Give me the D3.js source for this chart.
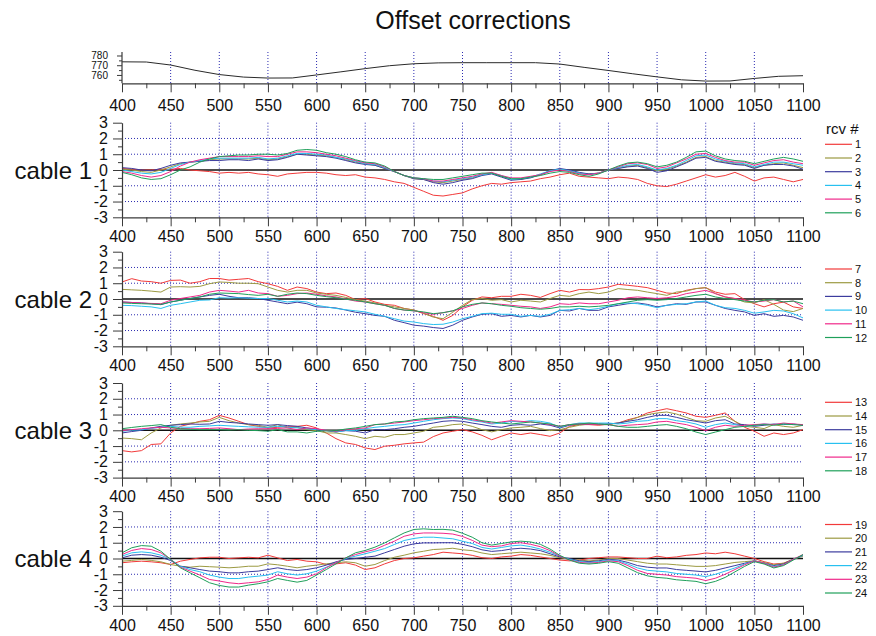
<!DOCTYPE html>
<html>
<head>
<meta charset="utf-8">
<script src="https://cdn.jsdelivr.net/npm/d3@7"></script>
<style>
  body { margin: 0; background: #fff; }
  svg { display: block; font-family: "Liberation Sans", Arial, sans-serif; }
</style>
</head>
<body>
<svg id="chart" width="876" height="636"></svg>
<script>
// ---- data ---------------------------------------------------------------
// Distance samples (m) shared by every receiver trace.
const distance = [
  400, 410, 420, 430, 440, 450, 460, 470, 480, 490,
  500, 510, 520, 530, 540, 550, 560, 570, 580, 590,
  600, 610, 620, 630, 640, 650, 660, 670, 680, 690,
  700, 710, 720, 730, 740, 750, 760, 770, 780, 790,
  800, 810, 820, 830, 840, 850, 860, 870, 880, 890,
  900, 910, 920, 930, 940, 950, 960, 970, 980, 990,
  1000, 1010, 1020, 1030, 1040, 1050, 1060, 1070, 1080, 1090,
  1100
];

// Elevation profile along the line.
const elevDistance = [400, 425, 450, 475, 500, 525, 550, 575, 600, 625, 650, 675, 700, 725,
  750, 775, 800, 825, 850, 875, 900, 925, 950, 975, 1000, 1025, 1050, 1075, 1100];
const elevation = [773.5, 773.3, 770.2, 764.8, 760.4, 757.8, 756.8, 756.9, 760.0, 763.2, 766.5, 769.5, 771.5, 772.4,
  772.6, 772.6, 772.6, 772.6, 771.2, 767.8, 764.6, 761.2, 758.0, 755.0, 753.7, 753.8, 756.4, 758.6, 759.2];

const xTicks = [400, 450, 500, 550, 600, 650, 700, 750, 800, 850, 900, 950, 1000, 1050, 1100];
const xMinorTicks = [425, 475, 525, 575, 625, 675, 725, 775, 825, 875, 925, 975, 1025, 1075];
const yTicks = [-3, -2, -1, 0, 1, 2, 3];
const yMinorTicks = [-2.5, -1.5, -0.5, 0.5, 1.5, 2.5];
const yGrid = [-2, -1, 1, 2];
const elevTicks = [760, 770, 780];
const elevMinorTicks = [755, 765, 775];

const cableNames = ["cable 1", "cable 2", "cable 3", "cable 4"];
const rcvNumbers = [[1, 2, 3, 4, 5, 6], [7, 8, 9, 10, 11, 12], [13, 14, 15, 16, 17, 18], [19, 20, 21, 22, 23, 24]];
const rcvColors = ["#f23a3a", "#9c9a42", "#3c3c9e", "#28c0f0", "#f0288a", "#1fa05a"];

// Offset corrections per receiver, cable 1
const cable1 = [
  [0.1, 0.05, 0.0, 0.0, 0.05, 0.05, 0.1, 0.0, -0.05, -0.1,
   -0.2, -0.15, -0.2, -0.15, -0.25, -0.3, -0.4, -0.25, -0.2, -0.15,
   -0.15, -0.2, -0.3, -0.35, -0.3, -0.45, -0.5, -0.6, -0.75, -0.85,
   -1.1, -1.35, -1.6, -1.65, -1.55, -1.45, -1.2, -1.0, -0.85, -0.9,
   -0.8, -0.75, -0.7, -0.55, -0.45, -0.3, -0.2, -0.4, -0.45, -0.5,
   -0.55, -0.45, -0.5, -0.6, -0.85, -1.0, -1.05, -0.9, -0.7, -0.5,
   -0.3, -0.45, -0.35, -0.15, -0.4, -0.7, -0.5, -0.45, -0.6, -0.75,
   -0.6],
  [0.05, 0.0, -0.1, -0.15, 0.0, 0.2, 0.4, 0.5, 0.55, 0.65,
   0.7, 0.7, 0.7, 0.7, 0.75, 0.65, 0.7, 0.85, 1.0, 1.0,
   0.95, 0.9, 0.8, 0.65, 0.5, 0.4, 0.3, 0.1, -0.1, -0.35,
   -0.55, -0.6, -0.75, -0.8, -0.7, -0.6, -0.5, -0.3, -0.2, -0.4,
   -0.6, -0.6, -0.45, -0.3, -0.05, 0.05, -0.05, -0.2, -0.25, -0.2,
   0.0, 0.1, 0.25, 0.3, 0.15, -0.05, 0.05, 0.25, 0.5, 0.8,
   0.85, 0.6, 0.5, 0.4, 0.35, 0.15, 0.3, 0.4, 0.45, 0.3,
   0.15],
  [0.15, 0.1, 0.0, -0.05, 0.1, 0.3, 0.45, 0.5, 0.55, 0.6,
   0.6, 0.65, 0.65, 0.6, 0.7, 0.6, 0.65, 0.8, 1.0, 0.95,
   0.9, 0.85, 0.75, 0.6, 0.45, 0.35, 0.3, 0.1, -0.1, -0.35,
   -0.55, -0.6, -0.8, -0.9, -0.8, -0.65, -0.55, -0.35, -0.25, -0.45,
   -0.65, -0.6, -0.5, -0.3, -0.05, 0.1, 0.0, -0.15, -0.25, -0.2,
   0.0, 0.1, 0.2, 0.25, 0.1, -0.15, -0.05, 0.2, 0.45, 0.75,
   0.8, 0.55, 0.45, 0.35, 0.3, 0.1, 0.3, 0.35, 0.35, 0.25,
   0.05],
  [0.0, -0.1, -0.2, -0.25, -0.15, 0.1, 0.35, 0.5, 0.6, 0.7,
   0.75, 0.75, 0.75, 0.75, 0.8, 0.7, 0.75, 0.9, 1.05, 1.05,
   1.0, 0.95, 0.8, 0.7, 0.55, 0.4, 0.35, 0.15, -0.1, -0.35,
   -0.5, -0.55, -0.7, -0.75, -0.65, -0.55, -0.45, -0.3, -0.2, -0.35,
   -0.6, -0.55, -0.45, -0.25, -0.05, 0.05, -0.05, -0.2, -0.3, -0.2,
   0.0, 0.15, 0.3, 0.35, 0.2, 0.0, 0.1, 0.3, 0.6, 0.9,
   0.95, 0.7, 0.55, 0.45, 0.4, 0.2, 0.35, 0.5, 0.5, 0.4,
   0.3],
  [-0.1, -0.2, -0.35, -0.45, -0.35, -0.1, 0.25, 0.5, 0.65, 0.75,
   0.85, 0.85, 0.85, 0.85, 0.9, 0.85, 0.85, 1.0, 1.15, 1.15,
   1.1, 1.0, 0.9, 0.75, 0.6, 0.45, 0.4, 0.2, -0.1, -0.35,
   -0.5, -0.55, -0.7, -0.7, -0.6, -0.5, -0.4, -0.25, -0.15, -0.35,
   -0.5, -0.5, -0.4, -0.3, -0.1, 0.0, -0.1, -0.25, -0.3, -0.2,
   0.0, 0.2, 0.4, 0.45, 0.35, 0.1, 0.2, 0.45, 0.7, 1.0,
   1.05, 0.8, 0.6, 0.5, 0.5, 0.3, 0.45, 0.6, 0.65, 0.5,
   0.4],
  [-0.15, -0.3, -0.5, -0.6, -0.55, -0.3, 0.0, 0.2, 0.5, 0.7,
   0.85, 0.9, 0.95, 0.95, 1.0, 1.0, 0.95, 1.05, 1.25, 1.3,
   1.25, 1.1, 1.0, 0.85, 0.65, 0.5, 0.45, 0.25, -0.1, -0.35,
   -0.5, -0.55, -0.6, -0.6, -0.5, -0.4, -0.3, -0.2, -0.2, -0.4,
   -0.55, -0.55, -0.45, -0.35, -0.2, -0.1, -0.15, -0.3, -0.4, -0.25,
   0.0, 0.25, 0.45, 0.5, 0.4, 0.2, 0.3, 0.5, 0.8, 1.15,
   1.2, 0.9, 0.7, 0.6, 0.55, 0.4, 0.55, 0.7, 0.8, 0.7,
   0.55]
];

// cable 2
const cable2 = [
  [1.08, 1.29, 1.14, 1.1, 1.0, 1.18, 1.2, 1.0, 1.1, 1.3,
   1.3, 1.2, 1.25, 1.3, 1.1, 0.97, 0.8, 0.55, 0.76, 0.66,
   0.44, 0.34, 0.38, 0.23, -0.04, 0.03, -0.19, -0.34, -0.4, -0.6,
   -0.7, -0.93, -1.1, -1.35, -1.04, -0.5, -0.08, 0.13, 0.08, 0.17,
   0.17, 0.3, 0.23, 0.1, 0.34, 0.55, 0.44, 0.6, 0.59, 0.66,
   0.76, 0.93, 0.87, 0.8, 0.72, 0.55, 0.38, 0.34, 0.55, 0.66,
   0.72, 0.44, 0.3, 0.34, -0.04, -0.3, -0.5, -0.3, -0.2, -0.5,
   -0.6],
  [0.61, 0.58, 0.55, 0.5, 0.44, 0.76, 0.78, 0.76, 0.8, 0.97,
   1.08, 1.05, 1.0, 1.0, 0.97, 0.76, 0.55, 0.44, 0.55, 0.55,
   0.38, 0.3, 0.23, 0.1, -0.05, -0.13, -0.25, -0.4, -0.5, -0.6,
   -0.7, -0.9, -1.15, -1.25, -0.84, -0.4, -0.04, 0.03, -0.08, -0.04,
   -0.19, -0.08, -0.13, -0.19, 0.03, 0.23, 0.17, 0.34, 0.44, 0.34,
   0.44, 0.66, 0.6, 0.55, 0.44, 0.34, 0.23, 0.44, 0.5, 0.66,
   0.72, 0.34, 0.13, 0.03, -0.19, -0.25, -0.04, -0.34, -0.7, -0.8,
   -0.6],
  [-0.19, -0.22, -0.25, -0.3, -0.36, -0.19, -0.08, 0.03, 0.13, 0.23,
   0.3, 0.17, 0.08, 0.08, 0.03, -0.08, -0.19, -0.3, -0.2, -0.3,
   -0.5, -0.52, -0.57, -0.7, -0.84, -0.93, -1.04, -1.1, -1.35, -1.5,
   -1.66, -1.72, -1.81, -1.87, -1.66, -1.35, -1.14, -0.97, -0.93, -1.1,
   -1.04, -1.14, -1.04, -1.14, -1.04, -0.72, -0.76, -0.6, -0.72, -0.72,
   -0.5, -0.4, -0.3, -0.25, -0.34, -0.5, -0.4, -0.3, -0.34, -0.19,
   -0.19, -0.4, -0.6, -0.72, -0.82, -1.04, -0.93, -1.1, -1.04, -1.14,
   -1.35],
  [-0.4, -0.42, -0.46, -0.5, -0.6, -0.4, -0.3, -0.19, -0.08, -0.06,
   0.08, 0.06, 0.08, 0.05, 0.03, 0.03, -0.08, -0.19, -0.13, -0.19,
   -0.4, -0.5, -0.6, -0.68, -0.75, -0.82, -0.97, -1.1, -1.25, -1.4,
   -1.46, -1.56, -1.62, -1.6, -1.46, -1.25, -1.1, -0.93, -0.9, -0.97,
   -0.97, -1.1, -1.04, -1.1, -0.97, -0.72, -0.68, -0.6, -0.68, -0.6,
   -0.46, -0.3, -0.25, -0.3, -0.4, -0.55, -0.4, -0.34, -0.3, -0.19,
   -0.13, -0.4, -0.55, -0.6, -0.72, -0.9, -0.82, -0.72, -0.76, -0.93,
   -1.2],
  [-0.19, -0.22, -0.25, -0.28, -0.3, -0.08, 0.03, 0.13, 0.23, 0.44,
   0.55, 0.5, 0.44, 0.55, 0.38, 0.34, 0.17, 0.23, 0.34, 0.38,
   0.3, 0.2, 0.13, 0.0, -0.13, -0.19, -0.3, -0.4, -0.6, -0.7,
   -0.75, -0.87, -0.97, -0.87, -0.75, -0.6, -0.4, -0.25, -0.3, -0.34,
   -0.4, -0.46, -0.5, -0.6, -0.5, -0.3, -0.34, -0.25, -0.3, -0.3,
   -0.19, -0.08, 0.08, 0.13, 0.08, 0.03, 0.08, 0.17, 0.34, 0.44,
   0.55, 0.34, 0.13, 0.03, -0.08, -0.19, -0.13, -0.04, -0.19, -0.13,
   -0.5],
  [-0.25, -0.28, -0.3, -0.32, -0.34, -0.19, -0.08, 0.03, 0.13, 0.3,
   0.38, 0.36, 0.34, 0.28, 0.23, 0.3, 0.17, 0.3, 0.38, 0.34,
   0.23, 0.15, 0.08, -0.02, -0.08, -0.19, -0.3, -0.4, -0.6, -0.7,
   -0.75, -0.82, -0.93, -0.87, -0.75, -0.5, -0.34, -0.25, -0.3, -0.4,
   -0.46, -0.55, -0.6, -0.65, -0.6, -0.5, -0.5, -0.46, -0.5, -0.46,
   -0.4, -0.3, -0.19, -0.08, -0.04, -0.08, -0.04, 0.03, 0.13, 0.23,
   0.3, 0.13, 0.03, -0.04, -0.13, -0.19, -0.08, -0.04, -0.19, -0.13,
   -0.3]
];

// cable 3
const cable3 = [
  [-1.29, -1.37, -1.29, -0.9, -0.86, -0.17, 0.25, 0.4, 0.57, 0.67,
   0.95, 0.78, 0.57, 0.36, 0.25, 0.15, 0.19, 0.25, 0.25, 0.32,
   0.15, -0.17, -0.53, -0.8, -0.9, -1.12, -1.22, -1.01, -0.95, -0.86,
   -0.8, -0.75, -0.4, -0.17, -0.06, 0.04, -0.1, -0.32, -0.6, -0.38,
   -0.17, -0.27, -0.17, -0.27, -0.38, -0.17, 0.25, 0.36, 0.36, 0.32,
   0.4, 0.46, 0.67, 0.82, 1.1, 1.24, 1.37, 1.24, 1.1, 0.89,
   0.82, 0.95, 1.1, 0.57, 0.19, -0.06, -0.38, -0.17, -0.27, -0.17,
   0.04],
  [-0.49, -0.53, -0.6, -0.17, 0.15, 0.32, 0.4, 0.46, 0.53, 0.57,
   0.82, 0.61, 0.46, 0.36, 0.32, 0.19, 0.36, 0.15, 0.19, 0.04,
   -0.02, -0.17, -0.17, -0.27, -0.38, -0.53, -0.38, -0.44, -0.27, -0.27,
   -0.17, -0.06, 0.19, 0.25, 0.36, 0.4, 0.25, 0.04, -0.1, 0.04,
   0.15, 0.19, 0.25, 0.11, -0.02, 0.04, 0.19, 0.32, 0.4, 0.36,
   0.36, 0.46, 0.61, 0.82, 0.99, 1.1, 1.16, 1.03, 0.82, 0.61,
   0.57, 0.78, 0.89, 0.57, 0.25, 0.19, 0.11, 0.36, 0.25, 0.19,
   0.32],
  [-0.17, -0.08, 0.0, 0.15, 0.25, 0.32, 0.36, 0.4, 0.38, 0.4,
   0.57, 0.5, 0.46, 0.4, 0.36, 0.32, 0.36, 0.3, 0.25, 0.15,
   0.04, -0.02, -0.1, -0.02, -0.06, -0.17, 0.04, 0.04, 0.1, 0.19,
   0.25, 0.36, 0.46, 0.57, 0.61, 0.57, 0.46, 0.36, 0.25, 0.19,
   0.32, 0.36, 0.32, 0.4, 0.32, 0.15, 0.32, 0.4, 0.4, 0.4,
   0.4, 0.46, 0.57, 0.67, 0.82, 0.95, 0.95, 0.82, 0.67, 0.57,
   0.46, 0.61, 0.67, 0.4, 0.36, 0.25, 0.32, 0.4, 0.36, 0.4,
   0.32],
  [-0.06, 0.0, 0.04, 0.12, 0.19, 0.25, 0.2, 0.19, 0.25, 0.28,
   0.32, 0.28, 0.25, 0.22, 0.2, 0.19, 0.25, 0.2, 0.15, 0.1,
   0.04, 0.0, -0.1, -0.02, -0.02, 0.1, 0.19, 0.25, 0.32, 0.36,
   0.46, 0.57, 0.67, 0.74, 0.78, 0.74, 0.61, 0.53, 0.4, 0.46,
   0.57, 0.53, 0.61, 0.57, 0.46, 0.19, 0.36, 0.46, 0.46, 0.46,
   0.46, 0.4, 0.46, 0.57, 0.61, 0.74, 0.74, 0.61, 0.53, 0.4,
   0.19, 0.36, 0.46, 0.36, 0.25, 0.32, 0.4, 0.36, 0.4, 0.36,
   0.36],
  [-0.02, 0.04, 0.1, 0.15, 0.19, 0.15, 0.12, 0.1, 0.1, 0.12,
   0.15, 0.1, 0.04, 0.08, 0.1, 0.1, 0.12, 0.15, 0.04, 0.15,
   0.1, 0.0, -0.06, 0.04, 0.1, 0.15, 0.36, 0.4, 0.46, 0.53,
   0.61, 0.67, 0.74, 0.78, 0.82, 0.78, 0.67, 0.57, 0.46, 0.53,
   0.61, 0.57, 0.53, 0.46, 0.36, 0.25, 0.36, 0.4, 0.4, 0.36,
   0.36, 0.25, 0.32, 0.36, 0.4, 0.53, 0.57, 0.46, 0.36, 0.19,
   -0.02, 0.19, 0.32, 0.25, 0.32, 0.36, 0.4, 0.36, 0.46, 0.4,
   0.36],
  [0.1, 0.18, 0.25, 0.3, 0.36, 0.19, 0.1, 0.06, 0.04, 0.04,
   0.04, 0.02, 0.04, 0.0, -0.02, -0.06, 0.04, -0.1, -0.1, -0.17,
   -0.06, -0.04, -0.02, 0.08, 0.15, 0.25, 0.36, 0.4, 0.53, 0.57,
   0.67, 0.74, 0.78, 0.82, 0.89, 0.82, 0.74, 0.61, 0.53, 0.46,
   0.4, 0.46, 0.53, 0.46, 0.4, 0.25, 0.36, 0.4, 0.46, 0.4,
   0.36, 0.25, 0.19, 0.19, 0.25, 0.32, 0.36, 0.25, 0.1, -0.11,
   -0.27, -0.11, 0.04, 0.19, 0.25, 0.32, 0.36, 0.32, 0.4, 0.36,
   0.32]
];

// cable 4
const cable4 = [
  [-0.27, -0.21, -0.17, -0.21, -0.27, -0.38, -0.17, -0.06, 0.04, 0.08,
   0.08, 0.0, 0.04, 0.08, 0.04, 0.21, 0.04, -0.13, -0.06, -0.17,
   -0.21, -0.38, -0.34, -0.27, -0.42, -0.7, -0.59, -0.34, -0.13, 0.0,
   0.04, 0.15, 0.25, 0.4, 0.35, 0.3, 0.2, 0.05, 0.0, 0.1,
   0.15, 0.25, 0.2, 0.1, 0.0, -0.1, -0.15, -0.1, 0.0, 0.05,
   0.1, 0.1, 0.05, 0.0, 0.0, 0.15, 0.05, 0.1, 0.2, 0.25,
   0.35, 0.3, 0.4, 0.3, 0.15, 0.0, -0.2, -0.35, -0.3, -0.05,
   0.2],
  [-0.17, -0.12, -0.06, -0.12, -0.21, -0.38, -0.49, -0.55, -0.49, -0.52,
   -0.55, -0.59, -0.55, -0.49, -0.49, -0.34, -0.4, -0.49, -0.59, -0.49,
   -0.42, -0.34, -0.27, -0.21, -0.27, -0.49, -0.38, -0.13, 0.08, 0.21,
   0.36, 0.46, 0.57, 0.6, 0.65, 0.55, 0.5, 0.35, 0.25, 0.3,
   0.35, 0.4, 0.35, 0.3, 0.2, 0.05, -0.05, -0.1, -0.15, -0.1,
   0.0, 0.0, -0.1, -0.2, -0.3, -0.35, -0.35, -0.4, -0.45, -0.5,
   -0.5, -0.45, -0.35, -0.25, -0.2, -0.15, -0.25, -0.4, -0.3, -0.05,
   0.15],
  [0.04, 0.21, 0.25, 0.21, 0.08, -0.13, -0.49, -0.59, -0.7, -0.8,
   -0.84, -0.91, -0.91, -0.84, -0.8, -0.7, -0.59, -0.7, -0.76, -0.7,
   -0.59, -0.42, -0.21, -0.06, 0.0, 0.08, 0.15, 0.36, 0.57, 0.78,
   0.93, 0.99, 0.99, 1.0, 1.0, 0.9, 0.75, 0.55, 0.45, 0.5,
   0.6, 0.65, 0.6, 0.5, 0.3, 0.1, 0.0, -0.15, -0.2, -0.15,
   -0.05, -0.1, -0.25, -0.45, -0.55, -0.6, -0.6, -0.7, -0.75, -0.8,
   -0.85, -0.75, -0.6, -0.45, -0.3, -0.15, -0.3, -0.45, -0.35, -0.05,
   0.2],
  [0.15, 0.36, 0.42, 0.36, 0.21, -0.06, -0.49, -0.7, -0.84, -1.05,
   -1.18, -1.27, -1.27, -1.18, -1.12, -1.05, -0.84, -0.97, -1.05, -0.97,
   -0.8, -0.55, -0.27, 0.0, 0.15, 0.3, 0.46, 0.63, 0.89, 1.14,
   1.27, 1.35, 1.35, 1.3, 1.25, 1.1, 0.95, 0.7, 0.6, 0.7,
   0.8, 0.85, 0.75, 0.6, 0.4, 0.15, -0.05, -0.2, -0.25, -0.2,
   -0.1, -0.15, -0.35, -0.6, -0.75, -0.8, -0.85, -0.95, -1.0, -1.05,
   -1.15, -1.0, -0.8, -0.6, -0.35, -0.15, -0.3, -0.5, -0.4, -0.05,
   0.2],
  [0.25, 0.51, 0.63, 0.57, 0.36, -0.06, -0.55, -0.8, -1.05, -1.33,
   -1.43, -1.54, -1.6, -1.54, -1.48, -1.33, -1.05, -1.18, -1.27, -1.18,
   -0.97, -0.59, -0.27, 0.04, 0.25, 0.42, 0.57, 0.84, 1.1, 1.41,
   1.56, 1.62, 1.62, 1.6, 1.55, 1.4, 1.15, 0.85, 0.75, 0.8,
   0.95, 1.0, 0.9, 0.75, 0.5, 0.15, -0.1, -0.25, -0.3, -0.25,
   -0.15, -0.2, -0.45, -0.75, -0.95, -1.0, -1.05, -1.15, -1.2, -1.25,
   -1.4, -1.25, -1.0, -0.7, -0.4, -0.15, -0.3, -0.55, -0.4, -0.05,
   0.25],
  [0.36, 0.68, 0.82, 0.78, 0.46, -0.06, -0.59, -0.91, -1.22, -1.54,
   -1.71, -1.81, -1.81, -1.69, -1.6, -1.48, -1.27, -1.39, -1.5, -1.39,
   -1.05, -0.7, -0.34, 0.04, 0.36, 0.51, 0.72, 0.99, 1.31, 1.62,
   1.84, 1.88, 1.84, 1.85, 1.8, 1.6, 1.35, 1.0, 0.85, 0.95,
   1.05, 1.1, 1.05, 0.9, 0.6, 0.2, -0.1, -0.3, -0.35, -0.3,
   -0.2, -0.3, -0.6, -0.9, -1.1, -1.2, -1.25, -1.35, -1.4, -1.45,
   -1.6, -1.45, -1.2, -0.85, -0.5, -0.2, -0.35, -0.6, -0.45, -0.1,
   0.25]
];

const cables = [cable1, cable2, cable3, cable4];

// ---- layout -------------------------------------------------------------
const svg = d3.select("#chart");
const X0 = 122, X1 = 803;
const panelTop = [122.7, 251.7, 383, 511.2];
const panelH = 94.6;
const legendTop = [144.3, 269, 402.3, 524.5];
const legendStep = 13.7;
const gridColor = "#2b2bb0";
const axisColor = "#3a3a3a";

const x = d3.scaleLinear().domain([400, 1100]).range([X0, X1]);

svg.append("text")
  .attr("x", 473).attr("y", 20)
  .attr("text-anchor", "middle").attr("dominant-baseline", "central")
  .attr("font-size", 25).attr("fill", "#111")
  .text("Offset corrections");

function styleAxis(g, fontSize) {
  g.select(".domain").attr("stroke", axisColor).attr("stroke-width", 1.2);
  g.selectAll(".tick line").attr("stroke", axisColor);
  g.selectAll(".tick text").attr("fill", "#111").attr("font-size", fontSize)
    .attr("font-family", '"Liberation Sans", Arial, sans-serif');
}

function drawXAxis(yPos, padding) {
  const major = svg.append("g").attr("transform", `translate(0,${yPos})`)
    .call(d3.axisBottom(x).tickValues(xTicks).tickSize(9).tickSizeOuter(0)
      .tickPadding(padding).tickFormat(d3.format("d")));
  styleAxis(major, 16);
  const minor = svg.append("g").attr("transform", `translate(0,${yPos})`)
    .call(d3.axisBottom(x).tickValues(xMinorTicks).tickSize(5).tickSizeOuter(0).tickFormat(""));
  minor.select(".domain").remove();
  minor.selectAll(".tick line").attr("stroke", axisColor);
}

function verticalGrid(top, bottom) {
  svg.append("g").selectAll("line")
    .data(xTicks.filter(d => d > 400 && d < 1100))
    .join("line")
    .attr("x1", d => x(d)).attr("x2", d => x(d))
    .attr("y1", top).attr("y2", bottom)
    .attr("stroke", gridColor).attr("stroke-width", 1)
    .attr("stroke-dasharray", "1,2");
}

// ---- elevation strip ----------------------------------------------------
{
  const top = 52, bottom = 83.3;
  const yE = d3.scaleLinear().domain([751.4, 783.6]).range([bottom, top]);
  verticalGrid(top, bottom);

  svg.append("path")
    .datum(elevDistance.map((d, i) => [d, elevation[i]]))
    .attr("fill", "none").attr("stroke", "#2a2a2a").attr("stroke-width", 1)
    .attr("d", d3.line().x(d => x(d[0])).y(d => yE(d[1])));

  const ya = svg.append("g").attr("transform", `translate(${X0},0)`)
    .call(d3.axisLeft(yE).tickValues(elevTicks).tickSize(5).tickSizeOuter(0).tickPadding(9));
  styleAxis(ya, 10);
  ya.select(".domain").attr("d", `M0,${top}V${bottom}`);
  const ym = svg.append("g").attr("transform", `translate(${X0},0)`)
    .call(d3.axisLeft(yE).tickValues(elevMinorTicks).tickSize(3).tickFormat(""));
  ym.select(".domain").remove();
  ym.selectAll(".tick line").attr("stroke", axisColor);

  drawXAxis(bottom, 7);
}

// ---- cable panels -------------------------------------------------------
cables.forEach((series, p) => {
  const top = panelTop[p], bottom = top + panelH;
  const y = d3.scaleLinear().domain([-3, 3]).range([bottom, top]);

  verticalGrid(top, bottom);
  svg.append("g").selectAll("line")
    .data(yGrid).join("line")
    .attr("x1", X0).attr("x2", X1)
    .attr("y1", d => y(d)).attr("y2", d => y(d))
    .attr("stroke", gridColor).attr("stroke-width", 1)
    .attr("stroke-dasharray", "1,2");

  svg.append("line")
    .attr("x1", X0).attr("x2", X1).attr("y1", y(0)).attr("y2", y(0))
    .attr("stroke", "#111").attr("stroke-width", 1.6);

  const line = d3.line().x((d, i) => x(distance[i])).y(d => y(d));
  series.forEach((vals, k) => {
    svg.append("path").datum(vals)
      .attr("fill", "none").attr("stroke", rcvColors[k])
      .attr("stroke-width", 1).attr("stroke-linejoin", "round")
      .attr("d", line);
  });

  const ya = svg.append("g").attr("transform", `translate(${X0},0)`)
    .call(d3.axisLeft(y).tickValues(yTicks).tickSize(9).tickSizeOuter(0).tickPadding(5)
      .tickFormat(d => (d < 0 ? "-" + Math.abs(d) : String(d))));
  styleAxis(ya, 16);
  const ym = svg.append("g").attr("transform", `translate(${X0},0)`)
    .call(d3.axisLeft(y).tickValues(yMinorTicks).tickSize(4).tickFormat(""));
  ym.select(".domain").remove();
  ym.selectAll(".tick line").attr("stroke", axisColor);

  drawXAxis(bottom, 4.5);

  svg.append("text")
    .attr("x", 92).attr("y", y(0))
    .attr("text-anchor", "end").attr("dominant-baseline", "central")
    .attr("font-size", 24).attr("fill", "#111")
    .text(cableNames[p]);

  // legend
  const lg = svg.append("g");
  if (p === 0) {
    lg.append("text").attr("x", 826).attr("y", 128)
      .attr("dominant-baseline", "central").attr("font-size", 15).attr("fill", "#111")
      .text("rcv #");
  }
  rcvNumbers[p].forEach((n, k) => {
    const ly = legendTop[p] + k * legendStep;
    lg.append("line").attr("x1", 825).attr("x2", 852).attr("y1", ly).attr("y2", ly)
      .attr("stroke", rcvColors[k]).attr("stroke-width", 1.2);
    lg.append("text").attr("x", 855).attr("y", ly)
      .attr("dominant-baseline", "central").attr("font-size", 11).attr("fill", "#111")
      .text(n);
  });
});
</script>
</body>
</html>
